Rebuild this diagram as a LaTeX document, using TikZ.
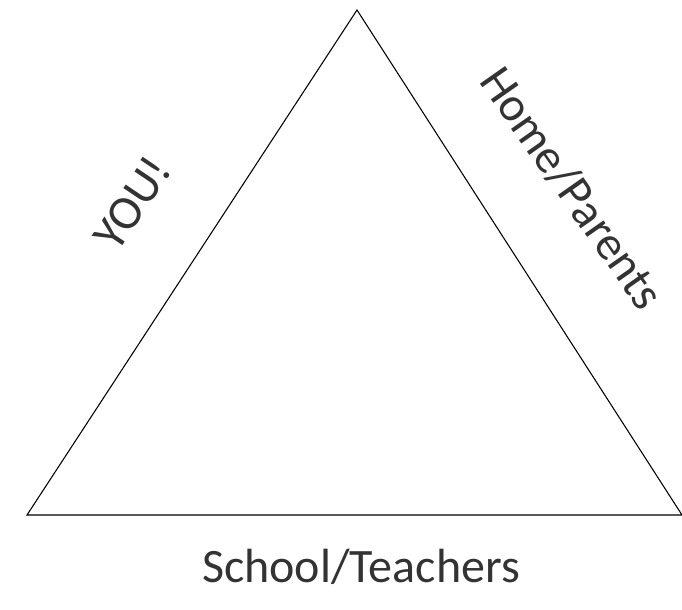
\documentclass[tikz,border=0pt]{standalone}
\usepackage{fontspec}
\setmainfont{Carlito}
\tikzset{
  side/.style={font=\fontsize{36}{42}\selectfont, text=black!80, inner sep=0pt},
}
\begin{document}
\begin{tikzpicture}[x=0.75pt,y=-0.75pt]
    \useasboundingbox (0,0) rectangle (682,610);
    \coordinate (apex) at (357,10);
    \coordinate (bl) at (27,515);
    \coordinate (br) at (682,515);
    \draw[line width=0.8pt] (apex) -- (br) -- (bl) -- cycle;
    \node[side,rotate=56] (you) at (132,203) {YOU!};
    \node[side,rotate=-55] (home) at (572,188) {Home/Parents};
    \node[side] (school) at (361,567) {School/Teachers};
  \end{tikzpicture}
\end{document}
